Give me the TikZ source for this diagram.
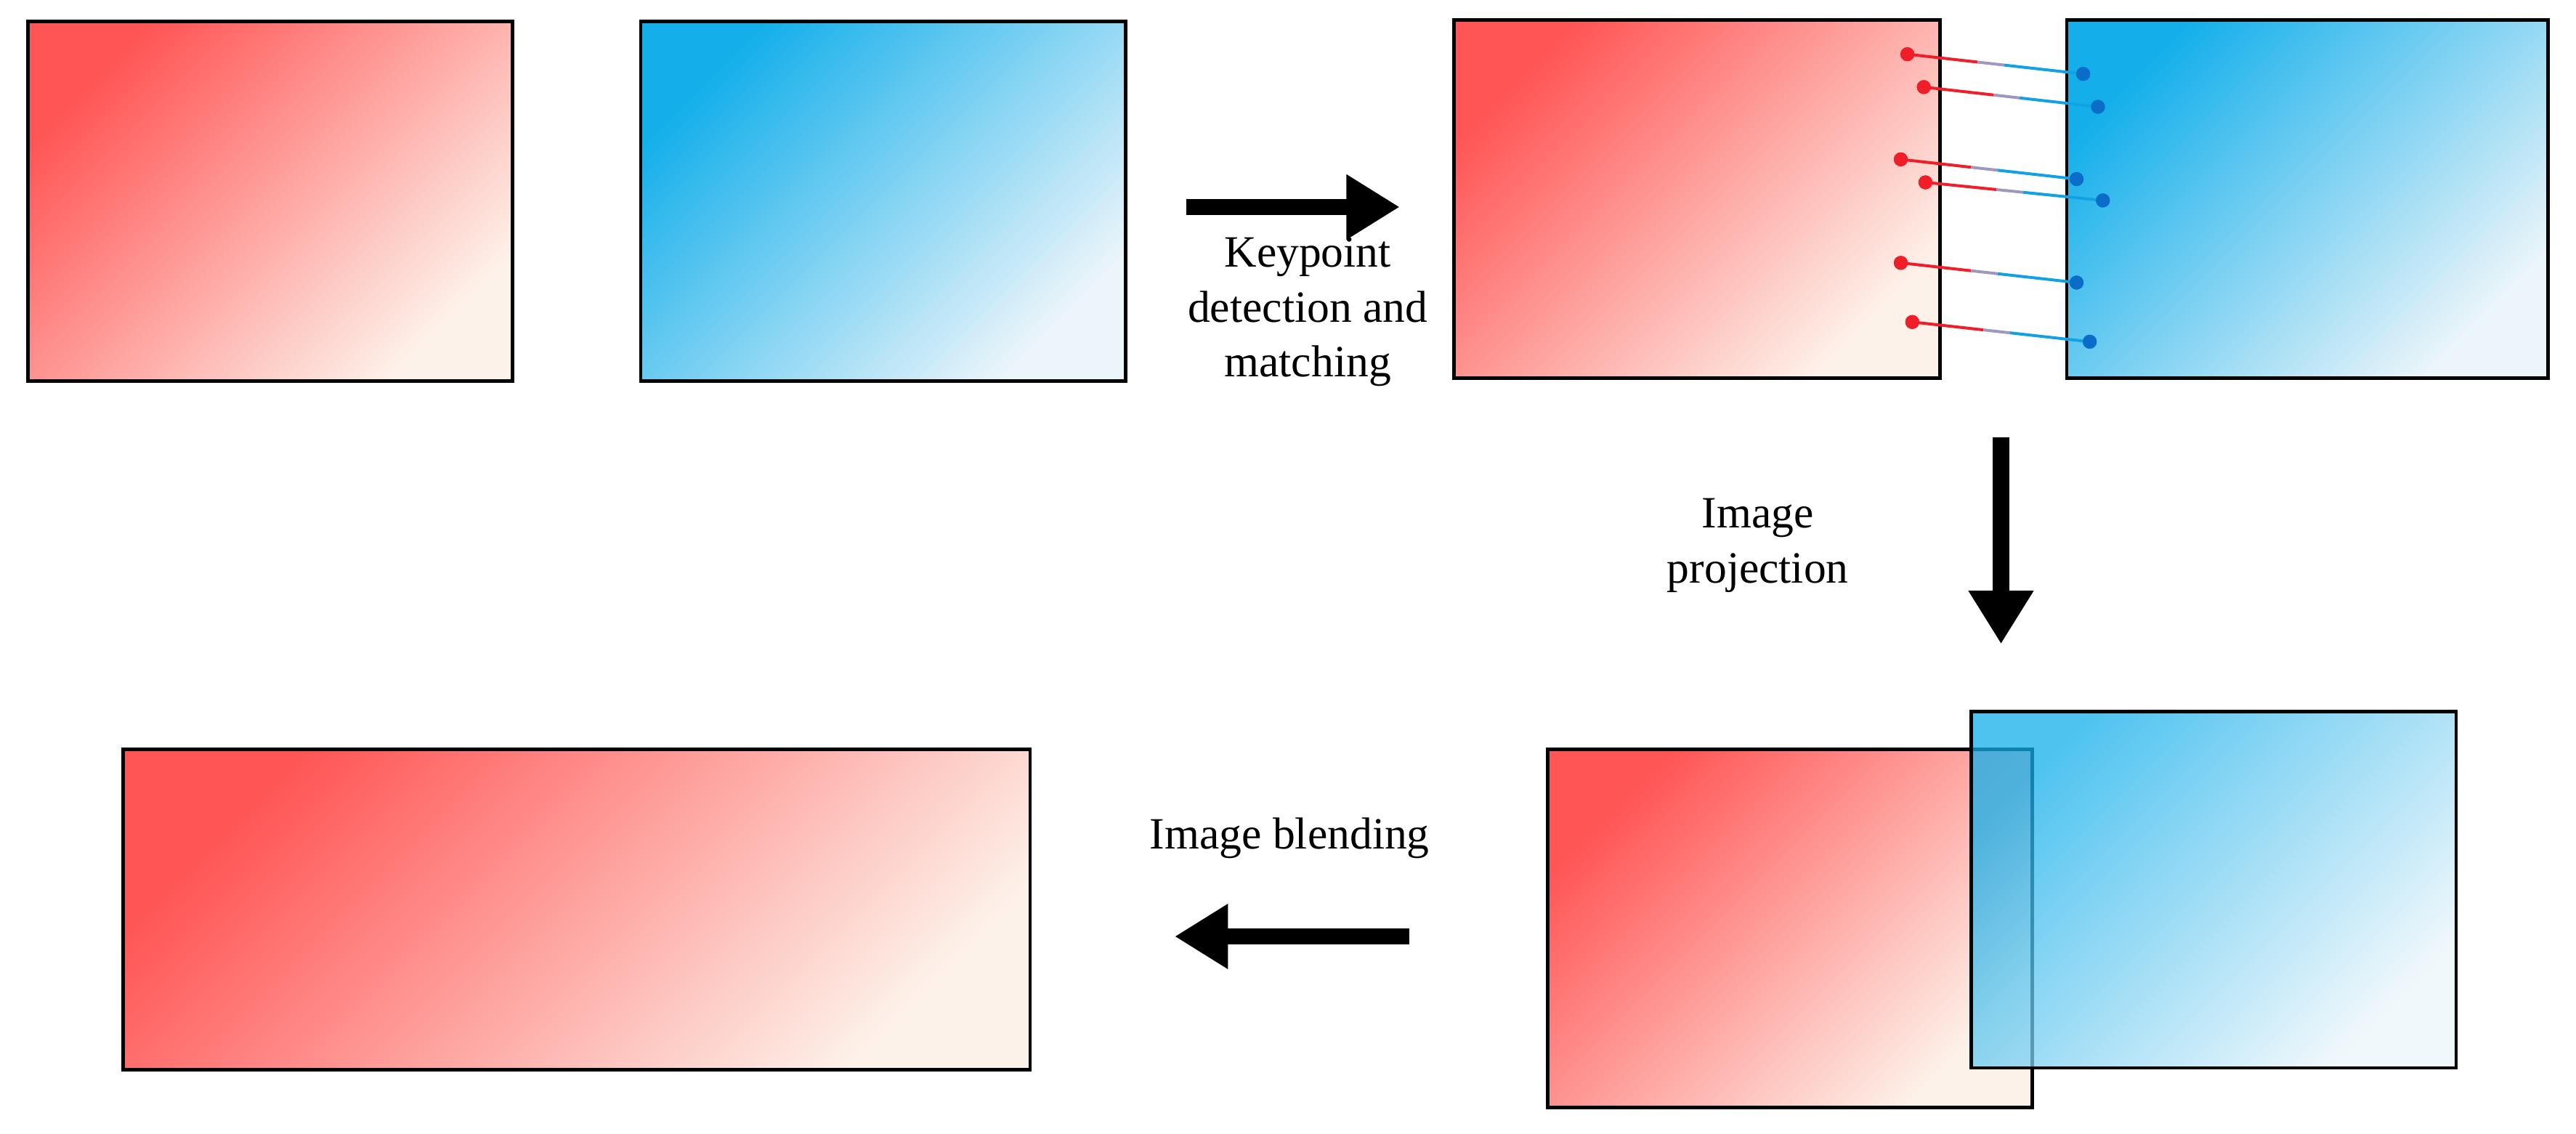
\documentclass[tikz,border=0pt]{standalone}
\usepackage{fontspec}
\setmainfont{Liberation Serif}
\usetikzlibrary{arrows.meta}
\definecolor{rA}{RGB}{255,85,85}
\definecolor{rM}{RGB}{232,195,195}
\definecolor{rB}{RGB}{253,242,234}
\definecolor{bA}{RGB}{20,175,235}
\definecolor{bM}{RGB}{165,215,232}
\definecolor{bB}{RGB}{236,245,250}
\definecolor{dotr}{RGB}{240,30,40}
\definecolor{dotb}{RGB}{10,110,200}
\definecolor{lmid}{RGB}{160,150,190}
\tikzset{
 redimg/.style={shading=axis,top color=rA,middle color=rM,bottom color=rB,shading angle=45},
 blueimg/.style={shading=axis,top color=bA,middle color=bM,bottom color=bB,shading angle=45},
 frame/.style={draw=black,line width=1.2pt},
 bigarrow/.style={line width=0.2cm,-{Triangle[length=0.65cm,width=0.75cm]}},
 lbl/.style={font=\fontsize{15.5}{19}\selectfont,align=center},
 kp/.style={circle,inner sep=0pt,minimum size=0.17cm}
}
\newcommand{\matchln}[5]{%
 \node[kp,fill=dotr] (r#1) at (#2,#3) {};
 \node[kp,fill=dotb] (b#1) at (#4,#5) {};
 \draw[line width=1pt,dotr] (r#1.center) -- ($(r#1.center)!0.4!(b#1.center)$);
 \draw[line width=1pt,lmid] ($(r#1.center)!0.4!(b#1.center)$) -- ($(r#1.center)!0.55!(b#1.center)$);
 \draw[line width=1pt,bA!80!dotb] ($(r#1.center)!0.55!(b#1.center)$) -- (b#1.center);
 \node[kp,fill=dotr] at (r#1) {};
 \node[kp,fill=dotb] at (b#1) {};
}
\usetikzlibrary{calc}
\begin{document}
\begin{tikzpicture}[x=0.02cm,y=-0.02cm]
\useasboundingbox (0,0) rectangle (1568,690);
% row 1
\shade[redimg] (17,13) rectangle (312,232);
\draw[frame] (17,13) rectangle (312,232);
\shade[blueimg] (390,13) rectangle (685,232);
\draw[frame] (390,13) rectangle (685,232);
\coordinate (a1s) at (722,126); \coordinate (a1e) at (852,126);
\draw[bigarrow] (a1s) -- (a1e);
\node[lbl] (t1) at (796,190) {Keypoint\\detection and\\matching};
\shade[redimg] (885,12) rectangle (1181,230);
\draw[frame] (885,12) rectangle (1181,230);
\shade[blueimg] (1258,12) rectangle (1551,230);
\draw[frame] (1258,12) rectangle (1551,230);
\matchln{1}{1161}{33}{1268}{45}
\matchln{2}{1171}{53}{1277}{65}
\matchln{3}{1157}{97}{1264}{109}
\matchln{4}{1172}{111}{1280}{122}
\matchln{5}{1157}{160}{1264}{172}
\matchln{6}{1164}{196}{1272}{208}
% down arrow
\coordinate (a2s) at (1218,266); \coordinate (a2e) at (1218,392);
\draw[bigarrow] (a2s) -- (a2e);
\node[lbl] (t2) at (1070,332) {Image\\projection};
% bottom
\shade[redimg] (942,456) rectangle (1237,674);
\draw[frame] (942,456) rectangle (1237,674);
\begin{scope}[opacity=0.75]
\shade[blueimg] (1200,433) rectangle (1495,650);
\end{scope}
\draw[frame] (1200,433) rectangle (1495,650);
\coordinate (a3s) at (858,570); \coordinate (a3e) at (715,570);
\draw[bigarrow] (a3s) -- (a3e);
\node[lbl] (t3) at (785,510) {Image blending};
\shade[redimg] (75,456) rectangle (627,651);
\draw[frame] (75,456) rectangle (627,651);
\end{tikzpicture}
\end{document}
